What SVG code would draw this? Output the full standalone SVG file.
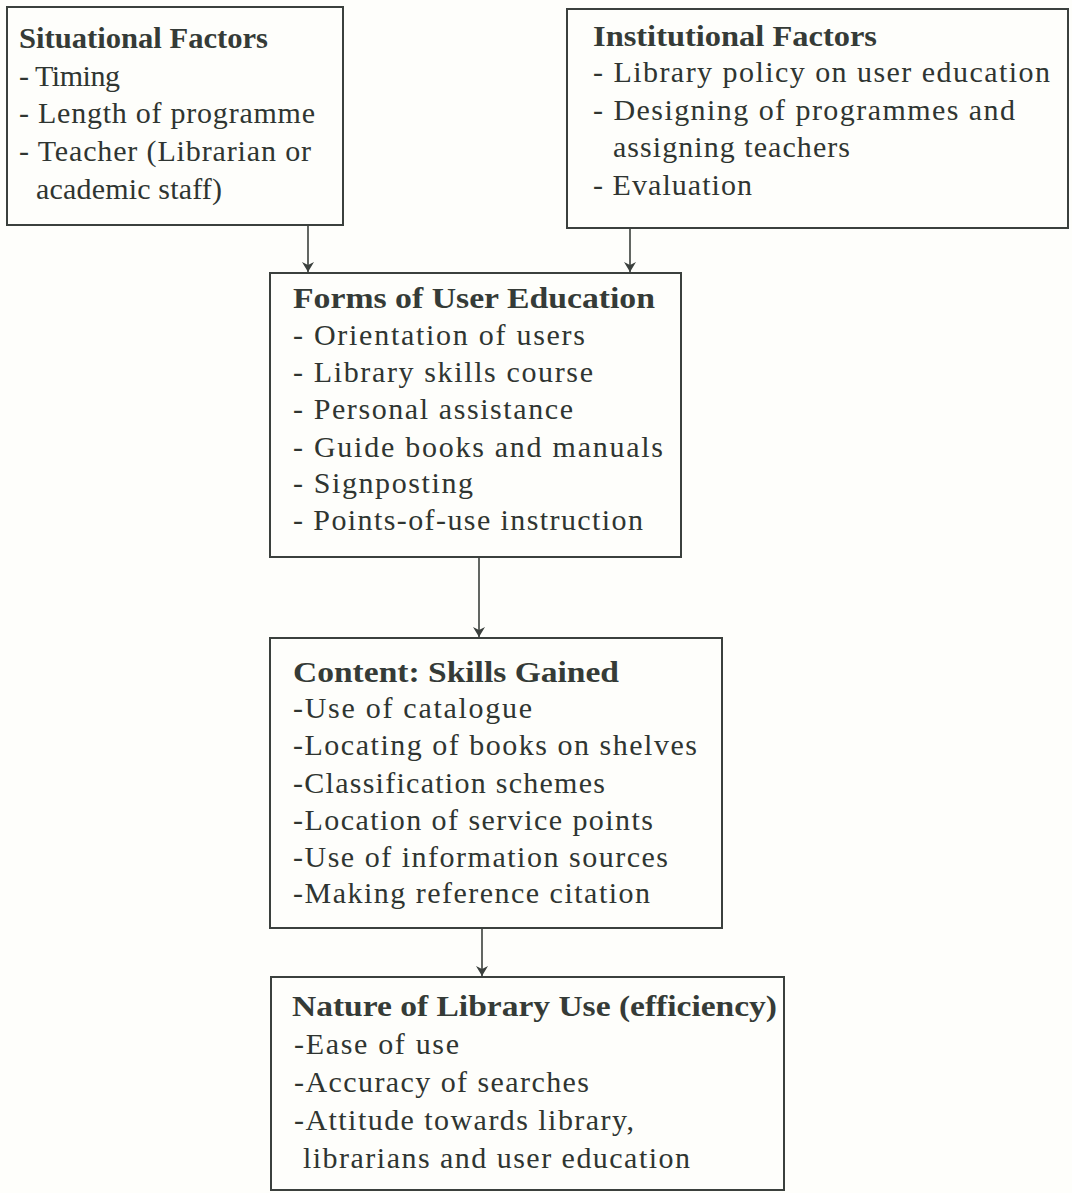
<svg xmlns="http://www.w3.org/2000/svg" width="1072" height="1193" viewBox="0 0 1072 1193">
<style>
.box{fill:none;stroke:#3b403d;stroke-width:2}
.t{font-family:"Liberation Serif","Times New Roman",serif;font-size:30px;fill:#2f3531}
.h{font-family:"Liberation Serif","Times New Roman",serif;font-size:30px;font-weight:bold;fill:#353b37}
.c{stroke:#3b403d;stroke-width:1.6;fill:none;marker-end:url(#ah)}
</style>
<defs>
<marker id="ah" viewBox="0 0 10 12" refX="10" refY="6" markerWidth="10" markerHeight="12" markerUnits="userSpaceOnUse" orient="auto">
<path d="M0,0 L10,6 L0,12 L3,6 Z" fill="#3b403d"/>
</marker>
</defs>
<rect width="1072" height="1193" fill="#fefefb"/>
<g id="connectors">
<path class="c" d="M308,225 V272"/>
<path class="c" d="M630,228 V272"/>
<path class="c" d="M479,557 V637"/>
<path class="c" d="M482,928 V976"/>
</g>
<g id="situational">
<rect class="box" x="7" y="7" width="336" height="218"/>
<text class="h" x="19" y="48" textLength="249" lengthAdjust="spacingAndGlyphs">Situational Factors</text>
<text class="t" x="19" y="86" textLength="101" lengthAdjust="spacing">- Timing</text>
<text class="t" x="19" y="123" textLength="296" lengthAdjust="spacing">- Length of programme</text>
<text class="t" x="19" y="161" textLength="292" lengthAdjust="spacing">- Teacher (Librarian or</text>
<text class="t" x="36" y="199" textLength="186" lengthAdjust="spacing">academic staff)</text>
</g>
<g id="institutional">
<rect class="box" x="567" y="9" width="501" height="219"/>
<text class="h" x="593" y="46" textLength="284" lengthAdjust="spacingAndGlyphs">Institutional Factors</text>
<text class="t" x="593" y="82" textLength="457" lengthAdjust="spacing">- Library policy on user education</text>
<text class="t" x="593" y="120" textLength="422" lengthAdjust="spacing">- Designing of programmes and</text>
<text class="t" x="613" y="157" textLength="237" lengthAdjust="spacing">assigning teachers</text>
<text class="t" x="593" y="195" textLength="159" lengthAdjust="spacing">- Evaluation</text>
</g>
<g id="forms">
<rect class="box" x="270" y="273" width="411" height="284"/>
<text class="h" x="293" y="308" textLength="362" lengthAdjust="spacingAndGlyphs">Forms of User Education</text>
<text class="t" x="293" y="345" textLength="292" lengthAdjust="spacing">- Orientation of users</text>
<text class="t" x="293" y="382" textLength="300" lengthAdjust="spacing">- Library skills course</text>
<text class="t" x="293" y="419" textLength="280" lengthAdjust="spacing">- Personal assistance</text>
<text class="t" x="293" y="457" textLength="370" lengthAdjust="spacing">- Guide books and manuals</text>
<text class="t" x="293" y="493" textLength="180" lengthAdjust="spacing">- Signposting</text>
<text class="t" x="293" y="530" textLength="350" lengthAdjust="spacing">- Points-of-use instruction</text>
</g>
<g id="content">
<rect class="box" x="270" y="638" width="452" height="290"/>
<text class="h" x="293" y="682" textLength="326" lengthAdjust="spacingAndGlyphs">Content: Skills Gained</text>
<text class="t" x="293" y="718" textLength="239" lengthAdjust="spacing">-Use of catalogue</text>
<text class="t" x="293" y="755" textLength="404" lengthAdjust="spacing">-Locating of books on shelves</text>
<text class="t" x="293" y="793" textLength="312" lengthAdjust="spacing">-Classification schemes</text>
<text class="t" x="293" y="830" textLength="360" lengthAdjust="spacing">-Location of service points</text>
<text class="t" x="293" y="867" textLength="375" lengthAdjust="spacing">-Use of information sources</text>
<text class="t" x="293" y="903" textLength="357" lengthAdjust="spacing">-Making reference citation</text>
</g>
<g id="nature">
<rect class="box" x="271" y="977" width="513" height="213"/>
<text class="h" x="292" y="1016" textLength="485" lengthAdjust="spacingAndGlyphs">Nature of Library Use (efficiency)</text>
<text class="t" x="294" y="1054" textLength="165" lengthAdjust="spacing">-Ease of use</text>
<text class="t" x="294" y="1092" textLength="295" lengthAdjust="spacing">-Accuracy of searches</text>
<text class="t" x="294" y="1130" textLength="340" lengthAdjust="spacing">-Attitude towards library,</text>
<text class="t" x="303" y="1168" textLength="387" lengthAdjust="spacing">librarians and user education</text>
</g>
</svg>
